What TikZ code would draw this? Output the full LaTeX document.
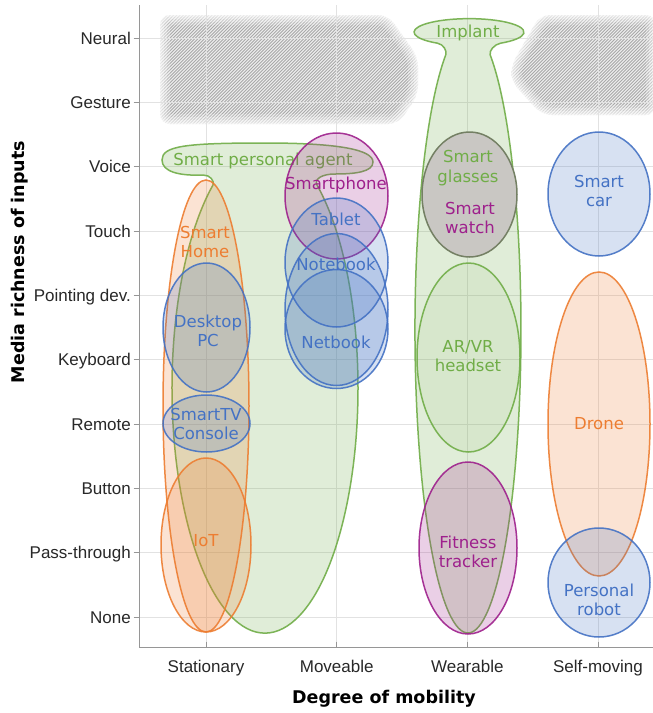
\documentclass[tikz,border=0pt]{standalone}
\usepackage{fontspec}
\setmainfont{DejaVu Sans}
\newfontfamily\tickfont{Liberation Sans}

\definecolor{cblue}{RGB}{68,114,196}
\definecolor{corange}{RGB}{237,125,49}
\definecolor{cgreen}{RGB}{112,173,71}
\definecolor{cpurple}{RGB}{158,32,140}
\definecolor{cmixfill}{RGB}{201,199,195}
\definecolor{cmixline}{RGB}{116,128,100}
\definecolor{gridgray}{RGB}{226,226,226}
\definecolor{axisgray}{RGB}{150,150,150}
\definecolor{hatchgray}{RGB}{168,168,168}
\definecolor{hatchbg}{RGB}{238,238,238}
\definecolor{ticktext}{RGB}{40,40,40}

\tikzset{
  zoneL/.style={rounded corners=10pt, insert path={(160,15) -- (388,15) -- (418,57) -- (418,95) -- (398,124) -- (160,124) -- cycle}},
  zoneR/.style={rounded corners=10pt, insert path={(540,15) -- (656,15) -- (656,115) -- (542,115) -- (511,81) -- (511,66) -- cycle}},
}

\begin{document}
\begin{tikzpicture}[x=1pt, y=-1pt,
  region/.style={draw=#1, draw opacity=0.9, line width=1.5pt, fill=#1, fill opacity=0.21},
  lbl/.style={text=#1, font=\fontsize{16.5}{19.5}\selectfont, align=center, inner sep=0pt},
  ticklbl/.style={font=\tickfont\fontsize{17}{20}\selectfont, text=ticktext, inner sep=0pt},
  axtitle/.style={font=\bfseries\fontsize{17.5}{21}\selectfont, inner sep=0pt},
  gridline/.style={draw=gridgray, line width=1pt},
  hatchline/.style={draw=hatchgray, line width=0.9pt},
]
\useasboundingbox (0,0) rectangle (653,713);
\fill[white] (0,0) rectangle (653,713);

% hatched, soft-edged zones
\begin{scope}
  \clip[zoneL];
  \fill[hatchbg] (150,10) rectangle (430,130);
  \foreach \s in {0,3.2,...,400} \draw[hatchline] (30+\s,130) -- (150+\s,10);
\end{scope}
\begin{scope}
  \clip[zoneR];
  \fill[hatchbg] (500,10) rectangle (660,130);
  \foreach \s in {0,3.2,...,300} \draw[hatchline] (380+\s,130) -- (500+\s,10);
\end{scope}
\foreach \w/\o in {20/0.2, 14/0.25, 8/0.3, 3/0.4} {
  \draw[white, line width=\w pt, opacity=\o, zoneL];
  \draw[white, line width=\w pt, opacity=\o, zoneR];
}

% grid
\foreach \yy in {617,552.67,488.33,424,359.67,295.33,231,166.67,102.33,38}
  \draw[gridline] (140,\yy) -- (653,\yy);
\foreach \xx in {206,336.7,467.3,598}
  \draw[gridline] (\xx,5) -- (\xx,647);

% axes
\draw[axisgray, line width=1pt] (139.5,5) -- (139.5,647.5) -- (653,647.5);
\foreach \yy in {617,552.67,488.33,424,359.67,295.33,231,166.67,102.33,38}
  \draw[axisgray, line width=1pt] (133.5,\yy) -- (139.5,\yy);
\foreach \xx in {206,336.7,467.3,598}
  \draw[axisgray, line width=1pt] (\xx,641.5) -- (\xx,647.5);

\node[ticklbl, anchor=base east] (y0) at (131,623) {None};
\node[ticklbl, anchor=base east] (y1) at (131,558.67) {Pass-through};
\node[ticklbl, anchor=base east] (y2) at (131,494.33) {Button};
\node[ticklbl, anchor=base east] (y3) at (131,430) {Remote};
\node[ticklbl, anchor=base east] (y4) at (131,365.67) {Keyboard};
\node[ticklbl, anchor=base east] (y5) at (131,301.33) {Pointing dev.};
\node[ticklbl, anchor=base east] (y6) at (131,237) {Touch};
\node[ticklbl, anchor=base east] (y7) at (131,172.67) {Voice};
\node[ticklbl, anchor=base east] (y8) at (131,108.33) {Gesture};
\node[ticklbl, anchor=base east] (y9) at (131,44) {Neural};

\node[ticklbl, anchor=base] (x1) at (206,672) {Stationary};
\node[ticklbl, anchor=base] (x2) at (336.7,672) {Moveable};
\node[ticklbl, anchor=base] (x3) at (467.3,672) {Wearable};
\node[ticklbl, anchor=base] (x4) at (598,672) {Self-moving};

\node[axtitle, anchor=base] (xtitle) at (384,703) {Degree of mobility};
\node[axtitle, rotate=90, anchor=base] (ytitle) at (24,262) {Media richness of inputs};

% ---- stationary ----
\path[region=cgreen] (317,185)
  arc[start angle=304, end angle=596, x radius=93, y radius=245]
  .. controls (214.5,180.5) and (210,175) .. (203,175)
  .. controls (180,176) and (162,172) .. (162,160)
  .. controls (162,146) and (185,143) .. (265,143)
  .. controls (340,143) and (373,150) .. (373,162)
  .. controls (373,172) and (355,174) .. (335,174)
  .. controls (322,174) and (314,179) .. (317,185) -- cycle;
\node[lbl=cgreen] (spa) at (263,161) {Smart personal agent};

\draw[region=corange] (206,406) ellipse[x radius=43, y radius=226];
\node[lbl=corange] (home) at (205,242) {Smart\\Home};

\draw[region=corange] (206,545) ellipse[x radius=45, y radius=87];
\node[lbl=corange] (iot) at (206,541) {IoT};

\draw[region=cblue] (206.5,327.5) ellipse[x radius=43.5, y radius=64.5];
\node[lbl=cblue] (desk) at (208,331) {Desktop\\PC};

\draw[region=cblue] (206.5,423.5) ellipse[x radius=43.5, y radius=28.5];
\node[lbl=cblue] (tv) at (206,424) {SmartTV\\Console};

% ---- moveable ----
\draw[region=cpurple] (336.5,196) ellipse[x radius=51.5, y radius=63];
\node[lbl=cpurple] (phone) at (336,185) {Smartphone};

\draw[region=cblue] (336.5,262.5) ellipse[x radius=51.5, y radius=64.5];
\node[lbl=cblue] (tablet) at (336,219) {Tablet};

\draw[region=cblue] (336.5,309.5) ellipse[x radius=51.5, y radius=76];
\node[lbl=cblue] (notebook) at (336,264) {Notebook};

\draw[region=cblue] (336.5,329) ellipse[x radius=51.5, y radius=59.5];
\node[lbl=cblue] (netbook) at (336,342) {Netbook};

% ---- wearable ----
\path[region=cgreen] (490.2,54.9)
  arc[start angle=294.8, end angle=605.2, x radius=53, y radius=303]
  .. controls (447.3,51) and (443.5,44.2) .. (437.5,43.2)
  arc[start angle=125, end angle=415, x radius=55, y radius=13.5]
  .. controls (494.5,44.2) and (488.7,51) .. (490.2,54.9) -- cycle;
\node[lbl=cgreen] (implant) at (468,32.5) {Implant};

\draw[draw=cmixline, line width=1.5pt, fill=cmixfill] (469.5,194.5) ellipse[x radius=47.5, y radius=62.5];
\node[lbl=cgreen] (glasses) at (468,168) {Smart\\glasses};
\node[lbl=cpurple] (watch) at (470,218) {Smart\\watch};

\draw[region=cgreen, fill opacity=0.08] (468.5,357.5) ellipse[x radius=51.5, y radius=94.5];
\node[lbl=cgreen] (arvr) at (468,356) {AR/VR\\headset};

\draw[region=cpurple] (468,548) ellipse[x radius=49, y radius=86];
\node[lbl=cpurple] (fitness) at (468,552) {Fitness\\tracker};

% ---- self-moving ----
\draw[region=cblue] (599,194) ellipse[x radius=51, y radius=62];
\node[lbl=cblue] (car) at (599,191) {Smart\\car};

\draw[region=corange] (599,424) ellipse[x radius=51, y radius=152];
\node[lbl=corange] (drone) at (599,424) {Drone};

\draw[region=cblue] (599,582.5) ellipse[x radius=51, y radius=54.5];
\node[lbl=cblue] (robot) at (599,600) {Personal\\robot};
\end{tikzpicture}
\end{document}
